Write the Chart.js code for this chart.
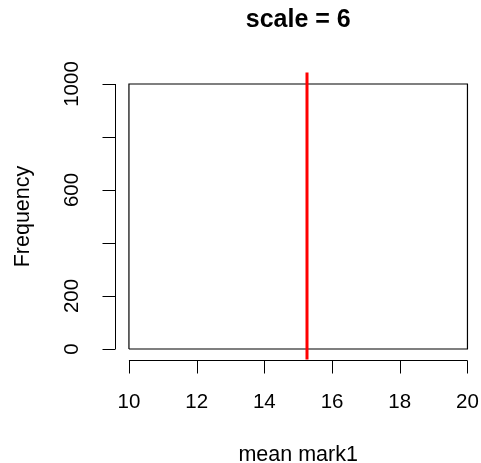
<!DOCTYPE html>
<html>
<head>
<meta charset="utf-8">
<script src="https://cdn.jsdelivr.net/npm/chart.js@4.4.1/dist/chart.umd.min.js"></script>
<style>
  html, body { margin: 0; padding: 0; background: #ffffff; }
  #wrap { width: 481px; height: 463px; position: relative; }
</style>
</head>
<body>
<div id="wrap"><canvas id="c" width="481" height="463"></canvas></div>
<script>
// Histogram of the simulated means: bin edges and counts
const binBreaks = [10, 20];
const binCounts = [1000];
// Observed mean, drawn as a vertical reference line
const meanMark = 15.26;

// Axis ticks and their printed labels (blank = tick without label)
const xTicks = [10, 12, 14, 16, 18, 20];
const xTickLabels = ['10', '12', '14', '16', '18', '20'];
const yTicks = [0, 200, 400, 600, 800, 1000];
const yTickLabels = ['0', '200', '', '600', '', '1000'];

const titleText = 'scale = 6';
const xTitle = 'mean mark1';
const yTitle = 'Frequency';

// Plot limits with 4% margin on each side
const xLim = [10, 20];
const yLim = [0, 1000];
const pad = (lim) => [lim[0] - 0.04 * (lim[1] - lim[0]), lim[1] + 0.04 * (lim[1] - lim[0])];
const xRange = pad(xLim);
const yRange = pad(yLim);

// Outline of the bars as one stepped path
function barOutline(breaks, counts) {
  const pts = [{ x: breaks[0], y: 0 }];
  counts.forEach((c, i) => {
    pts.push({ x: breaks[i], y: c });
    pts.push({ x: breaks[i + 1], y: c });
  });
  pts.push({ x: breaks[breaks.length - 1], y: 0 });
  pts.push({ x: breaks[0], y: 0 });
  return pts;
}

const FONT = '"Liberation Sans", Arial, Helvetica, sans-serif';

const rAxes = {
  id: 'rAxes',
  afterDraw(chart) {
    const { ctx, chartArea } = chart;
    const xs = chart.scales.x, ys = chart.scales.y;
    ctx.save();

    // red reference line across the plot region
    const mx = xs.getPixelForValue(meanMark);
    ctx.strokeStyle = '#ff0000';
    ctx.lineWidth = 3;
    ctx.beginPath();
    ctx.moveTo(mx, chartArea.top - 1);
    ctx.lineTo(mx, chartArea.bottom);
    ctx.stroke();

    ctx.strokeStyle = '#000000';
    ctx.fillStyle = '#000000';
    ctx.lineWidth = 1;
    const tickLen = 13;

    // x axis
    const ax = Math.round(chartArea.bottom) + 0.5;
    ctx.beginPath();
    ctx.moveTo(xs.getPixelForValue(xTicks[0]), ax);
    ctx.lineTo(xs.getPixelForValue(xTicks[xTicks.length - 1]), ax);
    xTicks.forEach(v => {
      const p = Math.round(xs.getPixelForValue(v)) + 0.5;
      ctx.moveTo(p, ax);
      ctx.lineTo(p, ax + tickLen);
    });
    ctx.stroke();
    ctx.font = '20.5px ' + FONT;
    ctx.textAlign = 'center';
    ctx.textBaseline = 'alphabetic';
    xTicks.forEach((v, i) => {
      ctx.fillText(xTickLabels[i], xs.getPixelForValue(v), 408);
    });

    // y axis
    const ay = Math.round(chartArea.left) + 0.5;
    ctx.beginPath();
    ctx.moveTo(ay, ys.getPixelForValue(yTicks[0]));
    ctx.lineTo(ay, ys.getPixelForValue(yTicks[yTicks.length - 1]));
    yTicks.forEach(v => {
      const p = Math.round(ys.getPixelForValue(v)) + 0.5;
      ctx.moveTo(ay, p);
      ctx.lineTo(ay - tickLen, p);
    });
    ctx.stroke();
    yTicks.forEach((v, i) => {
      if (!yTickLabels[i]) return;
      ctx.save();
      ctx.translate(78, ys.getPixelForValue(v));
      ctx.rotate(-Math.PI / 2);
      ctx.fillText(yTickLabels[i], 0, 0);
      ctx.restore();
    });

    // titles
    const cx = (chartArea.left + chartArea.right) / 2;
    const cy = (chartArea.top + chartArea.bottom) / 2;
    ctx.font = '21.5px ' + FONT;
    ctx.fillText(xTitle, cx, 461);
    ctx.save();
    ctx.translate(29, cy);
    ctx.rotate(-Math.PI / 2);
    ctx.fillText(yTitle, 0, 0);
    ctx.restore();
    ctx.font = 'bold 25px ' + FONT;
    ctx.fillText(titleText, cx, 27);

    ctx.restore();
  }
};

new Chart(document.getElementById('c'), {
  type: 'scatter',
  data: {
    datasets: [{
      type: 'line',
      data: barOutline(binBreaks, binCounts),
      borderColor: '#000000',
      borderWidth: 1.2,
      pointRadius: 0,
      fill: false,
      tension: 0
    }]
  },
  options: {
    responsive: false,
    animation: false,
    events: [],
    layout: { padding: { left: 115.4, right: 0, top: 73.4, bottom: 103.4 } },
    plugins: { legend: { display: false }, tooltip: { enabled: false }, title: { display: false } },
    scales: {
      x: { type: 'linear', min: xRange[0], max: xRange[1], display: false },
      y: { type: 'linear', min: yRange[0], max: yRange[1], display: false }
    }
  },
  plugins: [rAxes]
});
</script>
</body>
</html>
